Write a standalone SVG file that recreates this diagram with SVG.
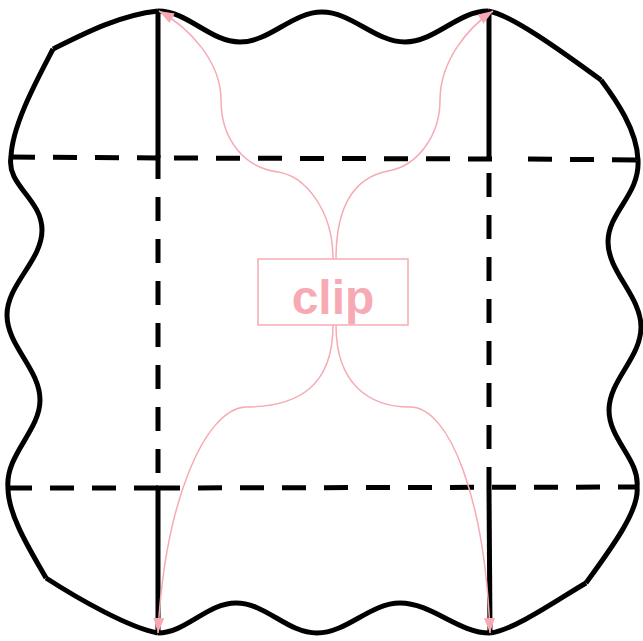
<svg xmlns="http://www.w3.org/2000/svg" width="643" height="641" viewBox="0 0 643 641">
<style>
.b{fill:none;stroke:#000;stroke-width:5}
.d{fill:none;stroke:#000;stroke-width:5;stroke-dasharray:24 18}
.e{fill:none;stroke:#f7aab4;stroke-width:1.5;marker-end:url(#ah)}
.n{fill:none;stroke:#f7aab4;stroke-width:1.5}
.t{font-family:"Liberation Sans",Arial,sans-serif;font-weight:bold;font-size:48px;fill:#f7aab4;text-anchor:middle}
</style>
<defs>
<marker id="ah" markerUnits="userSpaceOnUse" markerWidth="16" markerHeight="12" refX="15" refY="5.5" orient="auto">
<path d="M0,0 L15,5.5 L0,11 z" fill="#f7aab4"/>
</marker>
</defs>
<g id="outline">
<path class="b" d="M158,11 C188,11 210,42 240,42 C270,42 292,12 322,12 C352,12 375,42 405,42 C435,42 458,11 488,11"/>
<path class="b" d="M53,49 C85,33 120,15 158,11"/>
<path class="b" d="M53,49 C38,78 12,125 11,157"/>
<path class="b" d="M11,157 C6,185 42,199 42,230 C42,261 7,284 7,315 C7,346 40,369 40,400 C40,431 5,455 8,488"/>
<path class="b" d="M8,488 C8,515 30,550 46,578"/>
<path class="b" d="M46,578 C80,600 130,628 158,633"/>
<path class="b" d="M158,633 C186,633 207,603 236,603 C266,603 287,633 317,633 C347,633 370,603 400,603 C432,603 458,633 490,633"/>
<path class="b" d="M488,11 C510,14 560,50 601,80"/>
<path class="b" d="M601,80 C616,100 637,130 638,160"/>
<path class="b" d="M638,160 C640,195 608,212 608,242 C608,272 641,296 641,327 C641,358 609,380 609,410 C609,440 640,460 637,487"/>
<path class="b" d="M637,487 C640,510 610,550 586,583"/>
<path class="b" d="M586,583 C560,598 515,630 490,633"/>
</g>
<g id="grid">
<path class="b" d="M158,11 L158,158"/>
<path class="d" d="M158,155 L158,488"/>
<path class="b" d="M158,488 L158,633"/>
<path class="b" d="M489,11 L489,160"/>
<path class="d" d="M489,173 L489,488"/>
<path class="b" d="M489,488 L490,633"/>
<path class="d" d="M11,157 L158,158"/>
<path class="d" d="M174,158 L493,159"/>
<path class="d" d="M528,159 L637,160"/>
<path class="d" d="M8,488 L158,488"/>
<path class="d" d="M156,488 L637,487"/>
</g>
<g id="connectors">
<path class="e" d="M333,259 C333,210 305,176 278,172 C245,168 221,140 221,100 C221,62 190,28 159,11"/>
<path class="e" d="M336,259 C336,210 352,178 388,171 C418,166 440,135 440,100 C440,62 467,28 493,11"/>
<path class="e" d="M333,325 C333,385 300,407 245,407 C205,410 165,500 158,633"/>
<path class="e" d="M336,325 C336,385 370,407 410,407 C450,407 485,500 490,633"/>
</g>
<g id="clip">
<rect class="n" x="258" y="259" width="150" height="66"/>
<text class="t" x="333" y="314">clip</text>
</g>
</svg>
